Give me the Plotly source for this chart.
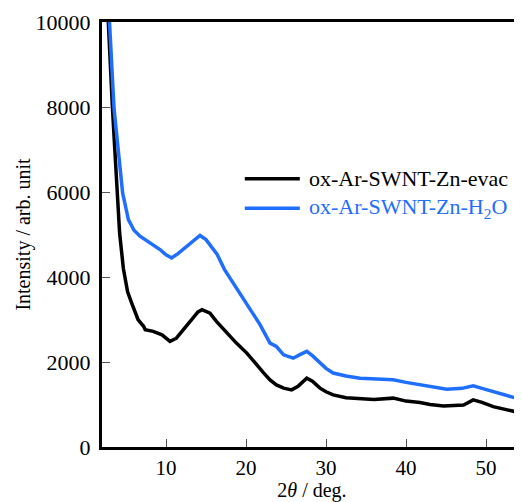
import plotly.graph_objects as go

# 2theta (deg) and intensity
evac_2theta = [2.4, 2.75, 3.3, 3.6, 3.96, 4.2, 4.67, 5.2, 5.7, 6.5, 7.2, 7.4, 8.4, 9.5,
               10.5, 11.3, 12.2, 13.0, 14.0, 14.5, 15.5, 16.3, 17.5, 18.8, 20.1, 21.0, 22.2,
               23.0, 23.8, 24.7, 25.7, 26.5, 27.6, 28.3, 29.25, 30.0, 30.9, 32.5, 34.25, 36.0,
               38.4, 40.0, 41.75, 43.0, 44.7, 46.0, 47.2, 48.4, 49.5, 50.9, 52.5, 54.5]
evac_int = [11500, 10000, 8000, 7000, 6000, 5040, 4200, 3650, 3390, 3000, 2840, 2760, 2720, 2640,
            2485, 2560, 2770, 2960, 3180, 3230, 3150, 2955, 2700, 2445, 2210, 2000, 1745,
            1580, 1460, 1385, 1345, 1430, 1620, 1550, 1385, 1300, 1225, 1160, 1130, 1120,
            1150, 1080, 1045, 1000, 967, 975, 990, 1110, 1050, 950, 880, 795]

h2o_2theta = [2.5, 2.85, 3.05, 3.5, 4.1, 4.58, 5.3, 6.0, 6.75, 8.0, 9.25, 10.0, 10.7, 11.5, 12.6,
              13.5, 14.25, 15.0, 15.6, 16.4, 17.3, 18.4, 19.5, 20.5, 21.75, 23.0, 23.8,
              24.7, 25.9, 26.8, 27.6, 28.3, 29.25, 30.0, 30.9, 32.5, 34.25, 36.5, 38.4, 40.0,
              41.75, 43.5, 45.1, 47.0, 48.4, 49.5, 50.9, 52.5, 54.5]
h2o_int = [11500, 10000, 9600, 7970, 6930, 5975, 5350, 5100, 4960, 4800, 4646, 4520, 4450, 4550, 4725,
           4850, 4976, 4880, 4720, 4530, 4180, 3860, 3550, 3230, 2880, 2445, 2365,
           2170, 2090, 2180, 2250, 2150, 1975, 1850, 1740, 1670, 1620, 1600, 1580, 1520,
           1460, 1400, 1360, 1380, 1440, 1380, 1305, 1220, 1110]

labels = ["ox-Ar-SWNT-Zn-evac", "ox-Ar-SWNT-Zn-H<sub>2</sub>O"]
colors = ["black", "#1e6eff"]

FONT = "Liberation Serif"

fig = go.Figure()
fig.add_trace(go.Scatter(x=evac_2theta, y=evac_int, mode="lines", line=dict(color=colors[0], width=3.5),
                         name=labels[0], showlegend=False))
fig.add_trace(go.Scatter(x=h2o_2theta, y=h2o_int, mode="lines", line=dict(color=colors[1], width=3.5),
                         name=labels[1], showlegend=False))

# hand-drawn legend
leg_y = [0.631, 0.562]
for lab, col, yy in zip(labels, colors, leg_y):
    fig.add_shape(type="line", xref="paper", yref="paper", x0=0.340, x1=0.471, y0=yy, y1=yy,
                  line=dict(color=col, width=3.5))
    fig.add_annotation(xref="paper", yref="paper", x=0.488, y=yy, text=lab, showarrow=False,
                       xanchor="left", yanchor="middle", font=dict(family=FONT, size=22, color=col))

# page body adds an 8px margin, so the figure is kept smaller than the window
fig.update_layout(
    width=514, height=494,
    margin=dict(l=94, r=0, t=14, b=55),
    plot_bgcolor="white", paper_bgcolor="white",
    font=dict(family=FONT, size=20, color="black"),
)
fig.update_xaxes(range=[2, 54.5], tickvals=[10, 20, 30, 40, 50], ticks="inside", ticklen=8,
                 tickcolor="#555", tickwidth=1, showline=True, linewidth=3, linecolor="black",
                 mirror=True, showgrid=False, zeroline=False, tickfont=dict(size=21),
                 title=dict(text="2<i>θ</i> / deg.", font=dict(size=20), standoff=0))
fig.update_yaxes(range=[0, 10000], tickvals=[0, 2000, 4000, 6000, 8000, 10000], tickformat="d",
                 ticks="inside", ticklen=8, tickcolor="#555", tickwidth=1, showline=True, linewidth=3,
                 linecolor="black", showgrid=False, zeroline=False, tickfont=dict(size=22),
                 ticklabelstandoff=4,
                 title=dict(text="Intensity / arb. unit", font=dict(size=20), standoff=0))

fig.write_html("out.html")
